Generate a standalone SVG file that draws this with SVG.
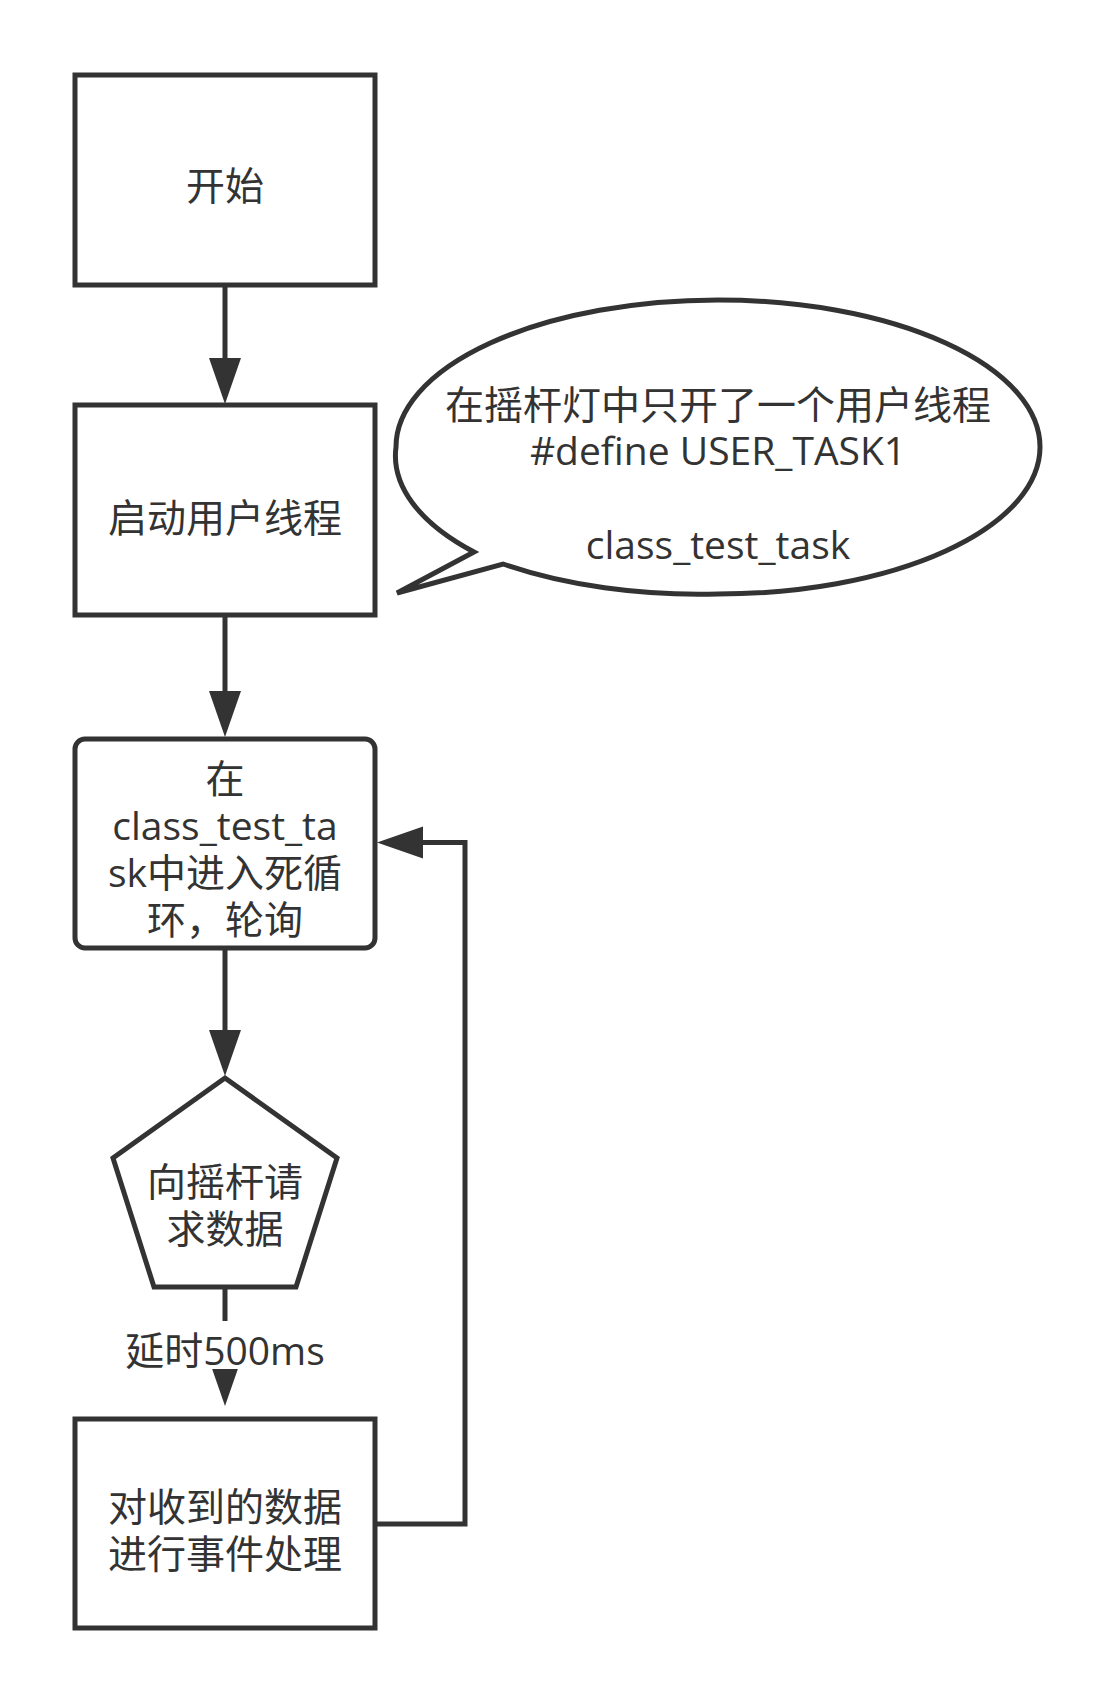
<svg xmlns="http://www.w3.org/2000/svg" width="1116" height="1704" viewBox="0 0 1116 1704">
<style>
  .shape { fill: #ffffff; stroke: #333333; stroke-width: 5; }
  .edge { fill: none; stroke: #333333; stroke-width: 5; }
  .head { fill: #333333; stroke: none; }
  text { font-family: "Open Sans", "Noto Sans CJK SC", sans-serif; font-size: 39px; fill: #333333; text-anchor: middle; }
</style>
<rect x="0" y="0" width="1116" height="1704" fill="#ffffff"/>

<g id="connectors">
  <line class="edge" x1="225" y1="285" x2="225" y2="360"/>
  <polygon class="head" points="209,358 241,358 225,404"/>
  <line class="edge" x1="225" y1="615" x2="225" y2="693"/>
  <polygon class="head" points="209,691 241,691 225,737"/>
  <line class="edge" x1="225" y1="948" x2="225" y2="1032"/>
  <polygon class="head" points="209,1030 241,1030 225,1076"/>
  <line class="edge" x1="225" y1="1287" x2="225" y2="1362"/>
  <polygon class="head" points="209,1360 241,1360 225,1406"/>
  <rect x="124" y="1321" width="202" height="48" fill="#ffffff"/>
  <text x="225" y="1365">延时500ms</text>
  <polyline class="edge" points="375,1524 465,1524 465,842.5 421,842.5"/>
  <polygon class="head" points="423,826.5 423,858.5 377,842.5"/>
</g>

<g id="node-start">
  <rect class="shape" x="75" y="75" width="300" height="210"/>
  <text x="225" y="200">开始</text>
</g>

<g id="node-thread">
  <rect class="shape" x="75" y="405" width="300" height="210"/>
  <text x="225" y="532">启动用户线程</text>
</g>

<g id="node-callout">
  <path class="shape" d="M 396,447 A 322,147 0 0 1 718,300 A 322,147 0 0 1 1040,447 A 322,147 0 0 1 718,594 A 322,147 0 0 1 503,564 L 397,593 L 474,552 A 322,147 0 0 1 396,447 Z"/>
  <text x="718" y="419">在摇杆灯中只开了一个用户线程</text>
  <text x="718" y="465">#define USER_TASK1</text>
  <text x="718" y="559">class_test_task</text>
</g>

<g id="node-loop">
  <rect class="shape" x="75" y="739" width="300" height="209" rx="10" ry="10"/>
  <text x="225" y="793">在</text>
  <text x="225" y="840">class_test_ta</text>
  <text x="225" y="887">sk中进入死循</text>
  <text x="225" y="934">环，轮询</text>
</g>

<g id="node-request">
  <polygon class="shape" points="225,1078 337,1158 296,1287 154,1287 113,1158"/>
  <text x="225" y="1196">向摇杆请</text>
  <text x="225" y="1243">求数据</text>
</g>

<g id="node-handle">
  <rect class="shape" x="75" y="1419" width="300" height="209"/>
  <text x="225" y="1521">对收到的数据</text>
  <text x="225" y="1568">进行事件处理</text>
</g>
</svg>
